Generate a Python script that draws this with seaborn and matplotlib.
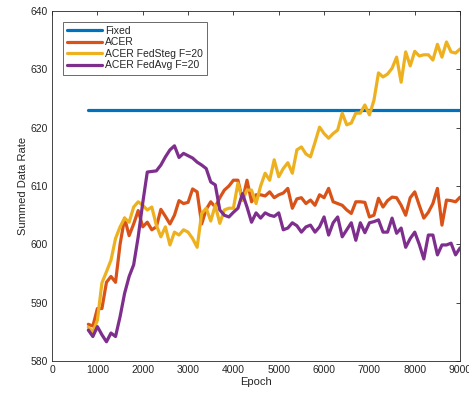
import numpy as np
import pandas as pd
import seaborn as sns
from matplotlib import pyplot as plt

# epochs sampled every 100 from 800 to 9000
epochs = list(range(800, 9001, 100))

fixed = [623.0] * len(epochs)

acer = [586.3, 586.0, 589.0, 589.0, 593.5, 594.5, 593.5, 600.0, 604.5, 601.5,
        603.5, 605.8, 603.0, 603.8, 602.5, 603.0, 606.0, 604.8, 603.5, 605.0,
        607.5, 607.0, 607.2, 609.5, 609.0, 603.5, 606.0, 607.3, 606.4, 608.0,
        609.3, 610.0, 611.0, 611.0, 607.6, 611.0, 607.3, 608.5, 608.5, 608.3,
        609.0, 608.0, 608.5, 608.8, 609.6, 606.2, 607.8, 608.0, 607.0, 607.6,
        606.7, 608.5, 608.0, 609.6, 607.3, 607.0, 606.7, 605.9, 605.3, 607.3,
        607.3, 607.2, 604.7, 605.0, 607.9, 606.4, 607.5, 608.1, 608.0, 606.7,
        605.0, 608.0, 609.0, 606.7, 604.5, 605.5, 607.0, 609.6, 603.3, 607.6,
        607.5, 607.3, 608.1]

fedsteg = [585.8, 585.0, 587.0, 593.4, 595.3, 597.3, 601.0, 603.0, 604.5, 603.8,
           606.4, 607.3, 606.7, 605.9, 606.4, 603.3, 601.3, 603.0, 599.9, 602.1,
           601.6, 602.5, 602.1, 601.0, 599.5, 605.3, 606.2, 604.0, 606.7, 603.6,
           605.9, 606.2, 606.2, 610.5, 607.6, 609.3, 609.3, 607.0, 610.0, 612.2,
           611.0, 614.5, 611.6, 613.0, 614.0, 612.2, 616.2, 616.7, 615.5, 615.0,
           617.5, 620.1, 619.0, 618.2, 619.0, 619.6, 622.5, 620.5, 620.8, 622.5,
           622.5, 623.9, 622.2, 624.7, 629.4, 628.7, 629.2, 630.2, 632.1, 627.8,
           633.0, 630.6, 633.1, 632.3, 632.5, 632.5, 631.6, 634.3, 632.1, 634.7,
           633.0, 632.8, 633.5]

fedavg = [585.3, 584.2, 585.9, 584.5, 583.3, 584.8, 584.2, 587.6, 591.6, 594.5,
          596.5, 601.3, 607.1, 612.4, 612.5, 612.6, 613.6, 615.0, 616.2, 616.9,
          614.9, 615.6, 615.2, 614.8, 614.1, 613.6, 613.0, 610.7, 610.2, 605.9,
          605.0, 604.7, 605.5, 606.2, 608.7, 606.4, 603.8, 605.4, 604.5, 605.4,
          605.0, 604.8, 605.4, 602.5, 602.8, 603.7, 603.2, 602.1, 603.0, 603.3,
          602.1, 603.0, 604.7, 601.6, 603.7, 604.7, 601.3, 602.5, 603.7, 600.7,
          603.7, 602.0, 603.7, 603.9, 604.2, 602.1, 602.1, 604.5, 601.9, 602.8,
          599.5, 601.0, 602.1, 600.0, 597.5, 601.6, 601.6, 598.2, 599.9, 599.9,
          600.2, 598.2, 599.4]

series_names = ['Fixed', 'ACER', 'ACER FedSteg F=20', 'ACER FedAvg F=20']
colors = ['#0072BD', '#D95319', '#EDB120', '#7E2F8E']

frames = []
for name, vals in zip(series_names, [fixed, acer, fedsteg, fedavg]):
    frames.append(pd.DataFrame({'Epoch': epochs, 'Summed Data Rate': vals, 'Method': name}))
data = pd.concat(frames)

sns.set_style('white')
plt.rcParams['font.family'] = ['Liberation Sans', 'DejaVu Sans']

fig = plt.figure(figsize=(4.69, 3.95), dpi=100)
ax = fig.add_axes([0.111, 0.086, 0.870, 0.886])

sns.lineplot(data=data, x='Epoch', y='Summed Data Rate', hue='Method',
             hue_order=series_names, palette=dict(zip(series_names, colors)),
             linewidth=2.3, ax=ax)

ax.set_xlim(0, 9000)
ax.set_ylim(580, 640)
ax.set_xticks(np.arange(0, 9001, 1000))
ax.set_yticks(np.arange(580, 641, 10))
ax.tick_params(direction='in', length=3, width=0.6, labelsize=7.5,
               top=True, right=True, colors='#262626', pad=3)
for s in ax.spines.values():
    s.set_color('#262626')
    s.set_linewidth(0.6)
ax.set_xlabel('Epoch', fontsize=8, labelpad=1)
ax.set_ylabel('Summed Data Rate', fontsize=8, labelpad=2)

leg = ax.legend(loc='upper left', fontsize=7.5, frameon=True, fancybox=False,
                handlelength=3.4, borderpad=0.4, labelspacing=0.15,
                handletextpad=0.3, bbox_to_anchor=(0.013, 0.985))
leg.get_frame().set_edgecolor('#262626')
leg.get_frame().set_linewidth(0.6)
for line in leg.get_lines():
    line.set_linewidth(2.3)

fig.savefig('out.png', dpi=100)
